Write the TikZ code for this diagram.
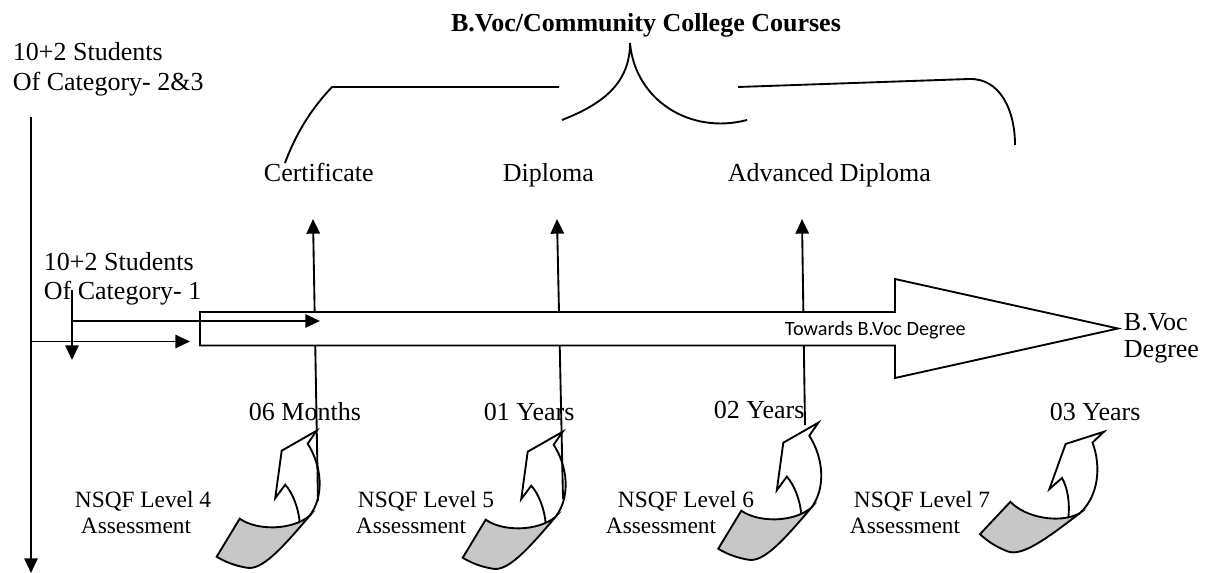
\documentclass[tikz,border=0pt]{standalone}
\usepackage{fontspec}
\setmainfont{Liberation Serif}
\newfontfamily\calfont{Carlito}
\usetikzlibrary{arrows.meta}
\tikzset{curvarrow/.pic={
 \fill[white] (-17,92) .. controls (-18,78) and (-24,62) .. (-31.5,54) -- (-41.5,67.5) -- (-35,20) -- (0,0) -- (-9,13) .. controls (5,35) and (8,65) .. (-7,85) -- cycle;
 \draw (-17,92) .. controls (-18,78) and (-24,62) .. (-31.5,54) -- (-41.5,67.5) -- (-35,20) -- (0,0) -- (-9,13) .. controls (5,35) and (8,65) .. (-7,85);
 \draw[fill=black!22] (-77,88) .. controls (-60,100) and (-25,100) .. (-7,85) .. controls (-35,118) and (-55,140) .. (-70,137) .. controls (-82,135) and (-92,131) .. (-100,126) -- cycle;
}}
\begin{document}
\begin{tikzpicture}[x=0.75pt,y=-0.75pt,line width=1.4pt,line join=miter,
 tri/.style={-{Triangle[length=11pt,width=10pt]}},
 txt/.style={anchor=base west,inner sep=0pt,font=\fontsize{19.5}{22.5}\selectfont},
 txts/.style={anchor=base west,inner sep=0pt,font=\fontsize{17.5}{19.5}\selectfont}]
\useasboundingbox (0,0) rectangle (1209,573);

% texts
\node[txt] (s23a) at (12,61) {10+2 Students};
\node[txt] (s23b) at (12,91) {Of Category- 2\&3};
\node[txt] (s1a) at (43,271) {10+2 Students};
\node[txt] (s1b) at (43,300) {Of Category- 1};
\node[anchor=base,inner sep=0pt,font=\bfseries\fontsize{19.5}{22.5}\selectfont] (title) at (646,32) {B.Voc/Community College Courses};
\node[txt] (cert) at (263,182) {Certificate};
\node[txt] (dipl) at (502,182) {Diploma};
\node[txt] (adip) at (727,182) {Advanced Diploma};
\node[txt] (m06) at (248,420) {06 Months};
\node[txt] (y01) at (483,420) {01 Years};
\node[txt] (y02) at (713,418) {02 Years};
\node[txt] (y03) at (1049,420) {03 Years};
\node[txt] (bv1) at (1123,330) {B.Voc};
\node[txt] (bv2) at (1123,357) {Degree};
\node[txts] (n4a) at (74,507) {NSQF Level 4};
\node[txts] (n4b) at (80,533) {Assessment};
\node[txts] (n5a) at (357,507) {NSQF Level 5};
\node[txts] (n5b) at (355,533) {Assessment};
\node[txts] (n6a) at (617,507) {NSQF Level 6};
\node[txts] (n6b) at (605,533) {Assessment};
\node[txts] (n7a) at (853,507) {NSQF Level 7};
\node[txts] (n7b) at (849,533) {Assessment};

% curved assessment arrows
\pic (ca1) at (316.7,430.7) {curvarrow};
\pic (ca2) at (562.7,431.7) {curvarrow};
\pic (ca3) at (818.3,422.7) {curvarrow};
\pic[rotate=-12] (ca4) at (1104,431.7) {curvarrow};

% upward arrows
\coordinate (u1b) at (318,501); \coordinate (u1t) at (313,219);
\coordinate (u2b) at (563,499); \coordinate (u2t) at (557,219);
\coordinate (u3b) at (805,425); \coordinate (u3t) at (802,219);
\draw[tri] (u1b) -- (u1t);
\draw[tri] (u2b) -- (u2t);
\draw[tri] (u3b) -- (u3t);

% left axis
\coordinate (vtop) at (31,117); \coordinate (vbot) at (31,573);
\draw[tri] (vtop) -- (vbot);
\coordinate (h1s) at (31,341.5); \coordinate (h1e) at (190,341.5);
\draw[tri] (h1s) -- (h1e);

% big arrow
\draw[fill=white] (200,312) -- (895,312) -- (895,279) -- (1118,328.5) -- (895,378) -- (895,345.5) -- (200,345.5) -- cycle;
\node[anchor=base west,inner sep=0pt,font=\calfont\fontsize{15.2}{18}\selectfont] (tow) at (784,335) {Towards B.Voc Degree};

% category 1 arrows
\coordinate (c1v) at (72,290); \coordinate (c1d) at (72,360);
\draw[tri] (c1v) -- (c1d);
\coordinate (c1h) at (72,321); \coordinate (c1r) at (320,321);
\draw[tri] (c1h) -- (c1r);

% brackets
\draw (285,163) .. controls (298,128) and (315,105) .. (332,87) -- (559,87);
\draw (562,120) .. controls (600,105) and (630,85) .. (630,43) .. controls (635,100) and (690,135) .. (747,120);
\draw (738,87) -- (969,79) .. controls (1000,78) and (1015,110) .. (1015,145);
\end{tikzpicture}
\end{document}
